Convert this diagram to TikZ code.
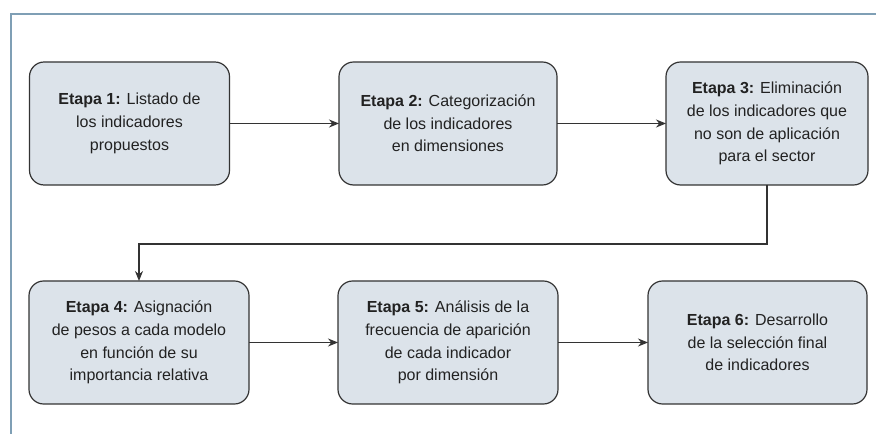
\documentclass[tikz,border=0pt]{standalone}
\usepackage{fontspec}
\setmainfont{Liberation Sans}
\usetikzlibrary{arrows.meta}
\definecolor{framec}{HTML}{7F9FB5}
\definecolor{boxfill}{HTML}{DCE3EA}
\definecolor{boxline}{HTML}{333333}
\definecolor{txt}{HTML}{222222}
\tikzset{
  stage/.style={draw=boxline, fill=boxfill, line width=0.9pt, rounded corners=11pt,
    minimum height=92.25pt, inner sep=0pt, outer sep=0pt, align=center,
    text=txt, font=\fontsize{12}{17}\selectfont},
  conn/.style={draw=boxline, line width=0.8pt, -{Stealth[length=7.5pt,width=6pt]}}
}
\begin{document}
\begin{tikzpicture}[x=0.75pt,y=-0.75pt]
\useasboundingbox (0,0) rectangle (876,434);
\draw[framec, line width=1.2pt] (11,434) -- (11,14) -- (876,14);
\node[stage, minimum width=150pt] (B1) at (129.5,123.5) {\textbf{Etapa 1:} Listado de\\los indicadores\\propuestos};
\node[stage, minimum width=163.5pt] (B2) at (448,123.5) {\textbf{Etapa 2:} Categorización\\de los indicadores\\en dimensiones};
\node[stage, minimum width=151.5pt] (B3) at (767,123.5) {\textbf{Etapa 3:} Eliminación\\de los indicadores que\\no son de aplicación\\para el sector};
\node[stage, minimum width=165pt] (B4) at (139,342.5) {\textbf{Etapa 4:} Asignación\\de pesos a cada modelo\\en función de su\\importancia relativa};
\node[stage, minimum width=165pt] (B5) at (448,342.5) {\textbf{Etapa 5:} Análisis de la\\frecuencia de aparición\\de cada indicador\\por dimensión};
\node[stage, minimum width=164.25pt] (B6) at (757.5,342.5) {\textbf{Etapa 6:} Desarrollo\\de la selección final\\de indicadores};
\coordinate (k) at (0,244);
\draw[conn] (B1) -- (B2);
\draw[conn] (B2) -- (B3);
\draw[conn] (B3.south) -- (B3.south |- k) -| (B4.north);
\draw[conn] (B4) -- (B5);
\draw[conn] (B5) -- (B6);
\end{tikzpicture}
\end{document}
